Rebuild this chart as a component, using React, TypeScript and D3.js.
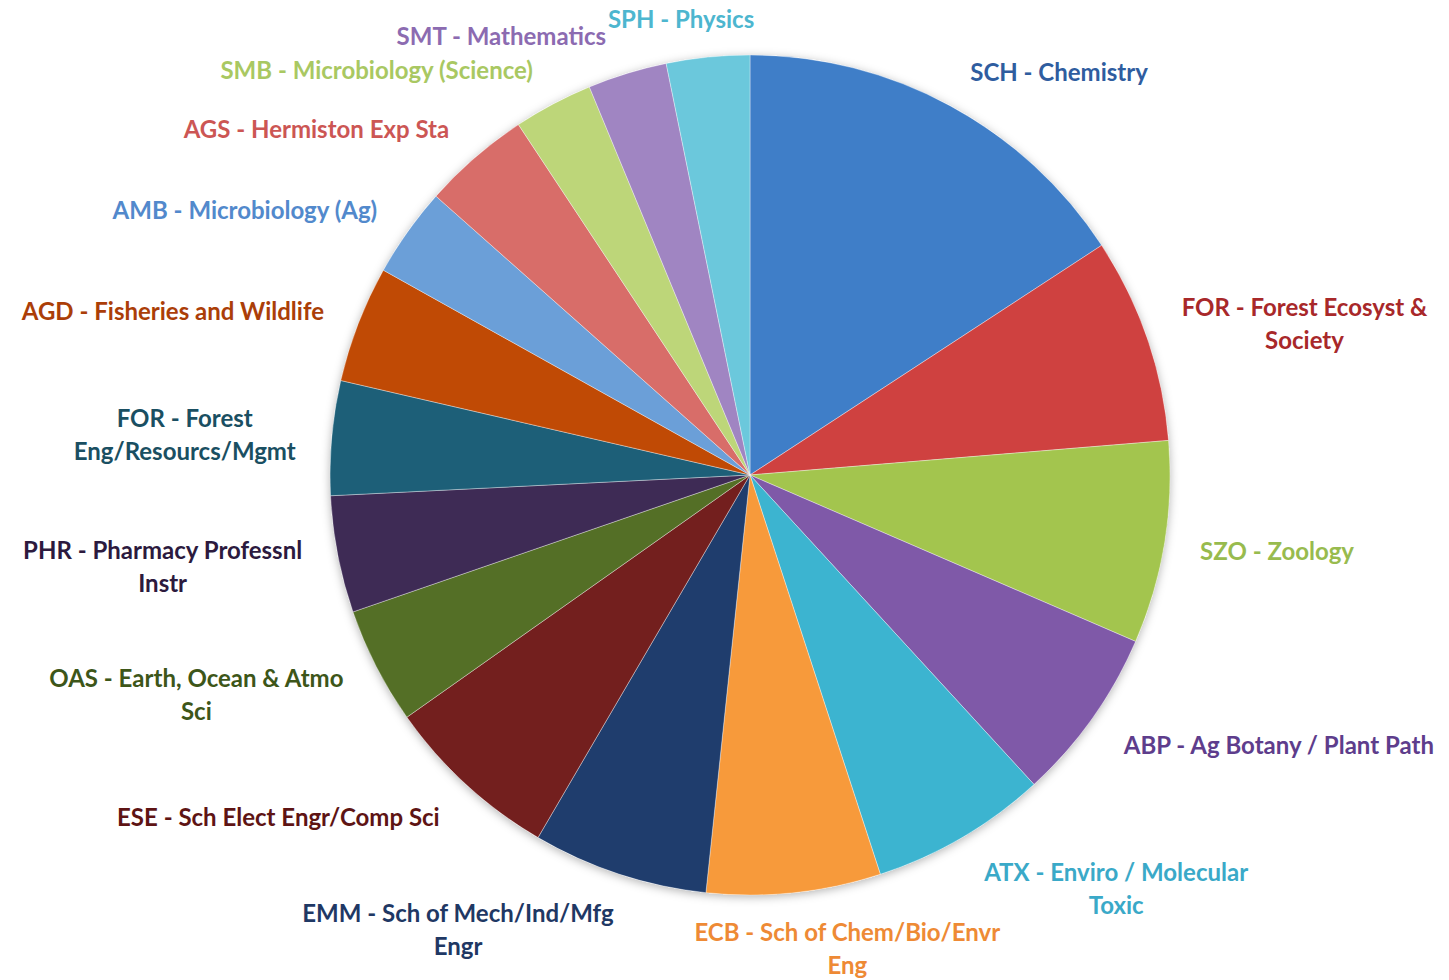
import React, { useEffect, useRef } from 'react';
import * as d3 from 'd3';

// slice order: clockwise from 12 o'clock
const codes = ['SCH', 'FOR', 'SZO', 'ABP', 'ATX', 'ECB', 'EMM', 'ESE', 'OAS', 'PHR', 'FOR2', 'AGD', 'AMB', 'AGS', 'SMB', 'SMT', 'SPH'];
const values = [15.8, 7.9, 7.8, 6.7, 6.8, 6.7, 6.75, 6.8, 4.5, 4.5, 4.4, 4.5, 3.45, 4.15, 3.05, 3.05, 3.2];
const labelLines = [
  ['SCH - Chemistry'],
  ['FOR - Forest Ecosyst &', 'Society'],
  ['SZO - Zoology'],
  ['ABP - Ag Botany / Plant Path'],
  ['ATX - Enviro / Molecular', 'Toxic'],
  ['ECB - Sch of Chem/Bio/Envr', 'Eng'],
  ['EMM - Sch of Mech/Ind/Mfg', 'Engr'],
  ['ESE - Sch Elect Engr/Comp Sci'],
  ['OAS - Earth, Ocean & Atmo', 'Sci'],
  ['PHR - Pharmacy Professnl', 'Instr'],
  ['FOR - Forest', 'Eng/Resourcs/Mgmt'],
  ['AGD - Fisheries and Wildlife'],
  ['AMB - Microbiology (Ag)'],
  ['AGS - Hermiston Exp Sta'],
  ['SMB - Microbiology (Science)'],
  ['SMT - Mathematics'],
  ['SPH - Physics'],
];
const sliceColors = ['#3f7ec8', '#cf4140', '#a3c54e', '#7f59a8', '#3cb4d0', '#f79a3b', '#1f3d6d', '#731f1e', '#546f26', '#3e2b55', '#1d5f78', '#c04a05', '#6b9fd8', '#d86d69', '#bdd679', '#a085c2', '#6bc8dc'];
const labelColors = ['#2f5d9f', '#a8282a', '#98bb4e', '#5e3d8c', '#3aa9c8', '#ee8a35', '#1f3864', '#5e1414', '#3d5619', '#2c1a3e', '#1a4f62', '#ab3e08', '#5289cc', '#cc5654', '#a9c862', '#8c6bb1', '#4db6cf'];

const W = 1449;
const H = 980;

export default function App() {
  const ref = useRef<SVGSVGElement>(null);

  useEffect(() => {
    const svg = d3.select(ref.current);
    svg.selectAll('*').remove();

    const cx = 750, cy = 475, r = 420;
    const data = codes.map((c, i) => ({ code: c, value: values[i], i }));

    const defs = svg.append('defs');
    const f = defs.append('filter').attr('id', 'shadow').attr('x', '-10%').attr('y', '-10%').attr('width', '120%').attr('height', '120%');
    f.append('feDropShadow').attr('dx', 0).attr('dy', 2).attr('stdDeviation', 5)
      .attr('flood-color', '#000').attr('flood-opacity', 0.3);

    const pie = d3.pie<any>().sort(null).value(d => d.value);
    const arcs = pie(data);
    const arc = d3.arc<any>().innerRadius(0).outerRadius(r);

    const g = svg.append('g').attr('transform', `translate(${cx},${cy})`);
    g.append('circle').attr('r', r).attr('fill', '#fff').attr('filter', 'url(#shadow)');
    g.selectAll('path.slice')
      .data(arcs)
      .join('path')
      .attr('class', 'slice')
      .attr('d', arc)
      .attr('fill', d => sliceColors[d.data.i])
      .attr('stroke', '#fff')
      .attr('stroke-opacity', 0.45)
      .attr('stroke-width', 0.8);

    // labels outside end, roughly the way excel places them
    const labels = svg.append('g')
      .style('font-family', 'Lato, "Open Sans", sans-serif')
      .style('font-weight', 700)
      .style('font-size', '24px');

    // right half clockwise, left half counter-clockwise from the top,
    // so the crowded top-left labels get pushed outward
    const right = arcs.filter(a => Math.sin((a.startAngle + a.endAngle) / 2) >= 0);
    const left = arcs.filter(a => Math.sin((a.startAngle + a.endAngle) / 2) < 0).reverse();

    const placed: { x0: number; x1: number; y0: number; y1: number }[] = [];
    [...right, ...left].forEach(a => {
      const i = a.data.i;
      const mid = (a.startAngle + a.endAngle) / 2;
      const s = Math.sin(mid), c = Math.cos(mid);
      const px = cx + (r + 30) * s;
      const py = cy - (r + 30) * c;

      const lg = labels.append('g');
      const t = lg.append('text').attr('text-anchor', 'middle').attr('fill', labelColors[i]);
      labelLines[i].forEach((line, k) => {
        t.append('tspan').attr('x', 0).attr('y', k * 33).text(line);
      });
      const bb = (lg.node() as SVGGElement).getBBox();
      const w = bb.width, h = bb.height;
      const clamp = (v: number) => Math.max(-1, Math.min(1, v));
      let tx = px + (w / 2 + 6) * clamp(3 * s);
      let ty = py + (h / 2) * (-c) * (c > 0 ? 0.7 : 0.88) + 1;
      // keep inside the chart area
      ty = Math.min(ty, H - h / 2 - 1);

      if (s < 0) {
        for (let n = 0; n < 100; n++) {
          const box = { x0: tx - w / 2, x1: tx + w / 2, y0: ty - h / 2, y1: ty + h / 2 };
          const hit = placed.some(p => box.x0 < p.x1 && box.x1 > p.x0 && box.y0 < p.y1 && box.y1 > p.y0);
          if (!hit) break;
          tx -= 4;
        }
      }
      placed.push({ x0: tx - w / 2, x1: tx + w / 2, y0: ty - h / 2, y1: ty + h / 2 });

      const bx = bb.x + w / 2, by = bb.y + h / 2;
      lg.attr('transform', `translate(${tx - bx},${ty - by})`);
    });
  }, []);

  return (
    <svg
      ref={ref}
      width={W}
      height={H}
      style={{ position: 'absolute', left: 0, top: 0, background: '#fff', display: 'block' }}
    />
  );
}
